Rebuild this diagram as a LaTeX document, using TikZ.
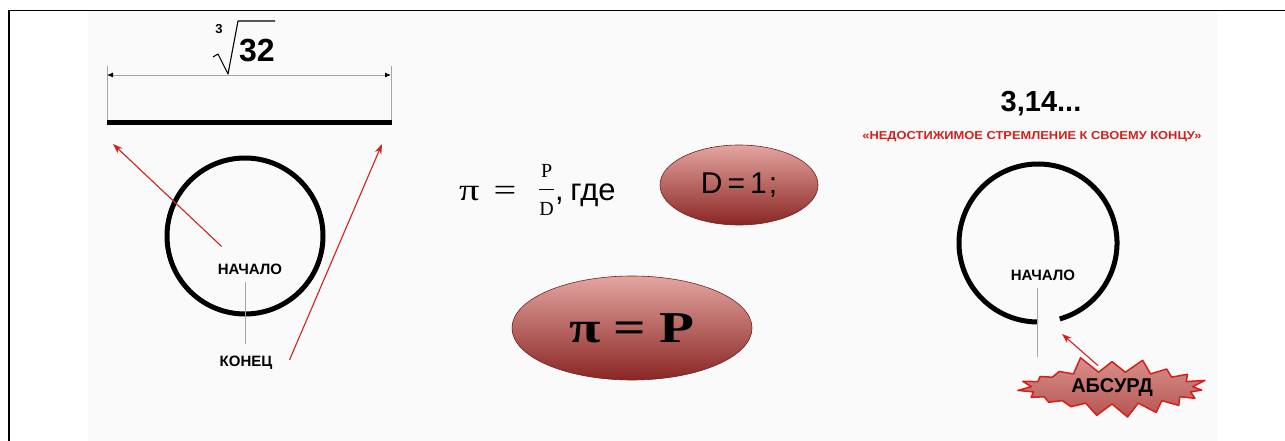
\documentclass[tikz,border=0pt]{standalone}
\usepackage{fontspec}
\setmainfont{Liberation Sans}
\newfontfamily\serifgr{Liberation Serif}
\usetikzlibrary{arrows.meta,shapes.geometric,shapes.symbols}
\definecolor{redline}{RGB}{212,32,28}
\definecolor{ovaltop}{RGB}{228,165,160}
\definecolor{ovalmid}{RGB}{192,96,92}
\definecolor{ovalbot}{RGB}{138,38,36}
\definecolor{slidebg}{RGB}{250,250,250}
\newcommand{\frl}[1]{\mbox{\serifgr\fontsize{20}{20}\selectfont #1}}
\tikzset{
	redarrow/.style={redline, line width=1.1pt, -{Stealth[length=10pt,width=7pt]}},
	oval/.style={ellipse, draw=ovalbot!85!black, line width=0.6pt, top color=ovaltop, middle color=ovalmid, bottom color=ovalbot, inner sep=0pt},
	lbl/.style={font=\bfseries\fontsize{15}{18}\selectfont, inner sep=0pt},
	thinline/.style={gray!70, line width=0.8pt},
}
\begin{document}
\begin{tikzpicture}[x=1pt, y=-1pt, line join=round]
			\useasboundingbox (0,0) rectangle (1285,441);
			\fill[slidebg] (88,11) rectangle (1218,441);
			\draw[line width=1.4pt] (9,441)--(9,10.5)--(1285,10.5);
			\coordinate (O1) at (245,236);
			\coordinate (dimL) at (107,75);
			\coordinate (dimR) at (391,75);
			\coordinate (barL) at (107,123);
			\coordinate (barR) at (392,123);
			\coordinate (tipL) at (113,144);
			\coordinate (tipR) at (382,144);
			\coordinate (O2) at (1038,243);
			\coordinate (gapend) at (1037,357);
			\coordinate (gaptip) at (1062,334);
			\draw[thinline] (dimL)++(0,-9)--(barL) (dimR)++(0,-9)--(barR -| dimR);
			\draw[thinline, {Latex[length=6pt,width=5pt,color=black]}-{Latex[length=6pt,width=5pt,color=black]}] (dimL)--(dimR);
			\draw[line width=5pt] (barL)--(barR);
			\draw[line width=5pt] (O1) circle[radius=78pt];
			\node[font=\bfseries\fontsize{32}{36}\selectfont, inner sep=0pt] (root) at (257,51) {32};
			\node[font=\bfseries\fontsize{13}{14}\selectfont, inner sep=0pt] (rootidx) at (219,29) {3};
			\draw[line width=1.1pt] (213,57)--(218,54)--(228,74)--(238,21)--(root.east |- 0,21);
			\node[lbl] (start1) at (250,269) {НАЧАЛО};
			\node[lbl] (end1) at (246,363) {КОНЕЦ};
			\draw[thinline] ([yshift=-7pt]start1.south -| O1)--([yshift=12pt]end1.north -| O1);
			\draw[redarrow] ([shift={(4pt,17pt)}]start1.north west)--(tipL);
			\draw[redarrow] ([shift={(17pt,3pt)}]end1.east)--(tipR);
			\node[font=\fontsize{31}{36}\selectfont, anchor=west, inner sep=0pt] (formula) at (459,190) {{\serifgr\scalebox{1.3}[1]{π}\hspace{14pt}\scalebox{1.3}[1]{=}\hspace{22pt}}\raisebox{5pt}{$\frac{\frl{P}\rule[-11pt]{0pt}{0pt}}{\rule{0pt}{26pt}\frl{D}}$},\hspace{-2pt} где};
			\node[oval, minimum width=158pt, minimum height=80pt, font=\fontsize{30}{36}\selectfont] (dcond) at (739,185) {D\hspace{5pt}=\hspace{5pt}1\hspace{2pt};};
			\node[oval, minimum width=240pt, minimum height=104pt, font=\serifgr\bfseries\fontsize{44}{48}\selectfont] (equal) at (632,328) {\scalebox{1.3}[1]{π\hspace{10pt}=\hspace{10pt}P}};
			\node[font=\bfseries\fontsize{29}{32}\selectfont] (pi) at (1041,104) {3,14...};
			\node[font=\bfseries\fontsize{11.5}{14}\selectfont, text=redline] (motto) at (1032,137) {\scalebox{1.12}[1]{«НЕДОСТИЖИМОЕ СТРЕМЛЕНИЕ К СВОЕМУ КОНЦУ»}};
			\draw[line width=5pt] ([shift={(-74:79pt)}]O2) arc[start angle=-74, end angle=270, radius=79pt];
			\node[lbl] (start2) at (1043,275) {НАЧАЛО};
			\draw[thinline] ([yshift=-7pt]start2.south -| gapend)--(gapend);
			\node[starburst, starburst points=19, starburst point height=17pt, random starburst=5, draw=redline, line width=1.5pt, top color=ovaltop!70!ovalmid, bottom color=ovalmid!80!ovalbot, minimum width=196pt, minimum height=66pt, inner sep=0pt, font=\bfseries\fontsize{20}{24}\selectfont] (absurd) at (1112,388) {АБСУРД};
			\draw[redarrow] ([shift={(-14pt,-5pt)}]absurd.north)--(gaptip);
		\end{tikzpicture}
\end{document}
